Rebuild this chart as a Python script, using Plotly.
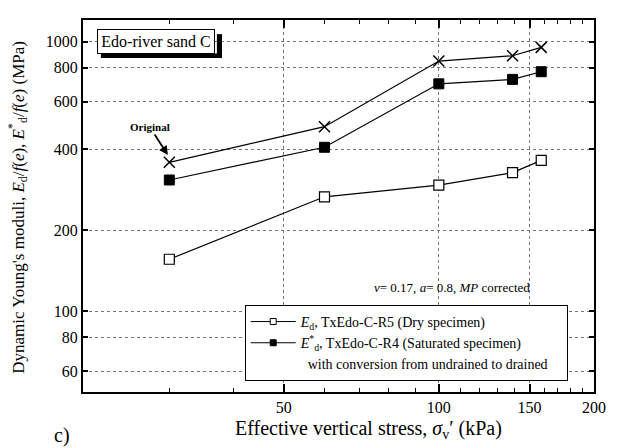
import numpy as np
import plotly.graph_objects as go

# Effective vertical stress (kPa)
stress = [30, 60, 100, 139, 158]
# Original (uncorrected) saturated-specimen moduli
e_original = [357, 484, 848, 887, 953]
# E*_d/f(e), saturated specimen, converted undrained -> drained
e_saturated = [307, 406, 698, 725, 774]
# E_d/f(e), dry specimen
e_dry = [156, 266, 294, 327, 363]

y_ticks = [60, 80, 100, 200, 400, 600, 800, 1000]
x_ticks = [50, 100, 150, 200]
x_minor = [30, 40, 60, 70, 80, 90, 110, 120, 130, 140, 160, 170, 180, 190]

FONT = "Liberation Serif"
LINE = dict(color="black", width=1.2)

fig = go.Figure()

# Data series
fig.add_trace(go.Scatter(
    x=stress, y=e_original, mode="lines+markers", showlegend=False,
    line=LINE,
    marker=dict(symbol="x-thin", size=11, color="black",
                line=dict(color="black", width=1.5)),
))
fig.add_trace(go.Scatter(
    x=stress, y=e_dry, mode="lines+markers", showlegend=False,
    line=LINE,
    marker=dict(symbol="square", size=10, color="white",
                line=dict(color="black", width=1.2)),
))
fig.add_trace(go.Scatter(
    x=stress, y=e_saturated, mode="lines+markers", showlegend=False,
    line=LINE,
    marker=dict(symbol="square", size=10, color="black",
                line=dict(color="black", width=1)),
))

# Legend entries (smaller symbols than the plotted markers)
fig.add_trace(go.Scatter(
    x=[None], y=[None], mode="lines+markers",
    name="<i>E</i><sub>d</sub>, TxEdo-C-R5 (Dry specimen)",
    line=dict(color="black", width=1),
    marker=dict(symbol="square", size=6, color="white",
                line=dict(color="black", width=1)),
))
fig.add_trace(go.Scatter(
    x=[None], y=[None], mode="lines+markers",
    name="<i>E</i><sup>*</sup><sub>d</sub>, TxEdo-C-R4 (Saturated specimen)",
    line=dict(color="black", width=1),
    marker=dict(symbol="square", size=6, color="black",
                line=dict(color="black", width=1)),
))
fig.add_trace(go.Scatter(
    x=[None], y=[None], mode="lines",
    name="&nbsp;&nbsp;with conversion from undrained to drained&nbsp;&nbsp;&nbsp;&nbsp;",
    line=dict(color="rgba(0,0,0,0)", width=0),
))

axis_common = dict(
    type="log", showline=True, linecolor="black", linewidth=2,
    mirror="ticks", ticks="inside", tickcolor="black",
    showgrid=True, gridcolor="#777", griddash="dot", gridwidth=1,
    zeroline=False,
    tickfont=dict(family=FONT, size=16, color="black"),
)

fig.update_xaxes(
    **axis_common,
    range=[np.log10(20.4), np.log10(200)],
    tickmode="array", tickvals=x_ticks, ticktext=[str(v) for v in x_ticks],
    ticklen=8, tickwidth=1.5,
    minor=dict(tickmode="array", tickvals=x_minor, ticks="inside",
               ticklen=4, tickwidth=1, tickcolor="black", showgrid=False),
)
fig.update_yaxes(
    **axis_common,
    range=[np.log10(50.2), np.log10(1204)],
    tickmode="array", tickvals=y_ticks, ticktext=[str(v) for v in y_ticks],
    ticklen=5, tickwidth=1.5,
)

# Drop shadow of the sample label box: a bottom strip and a right strip
shadow = dict(type="rect", xref="paper", yref="paper",
              fillcolor="black", line=dict(width=0), layer="above")
fig.add_shape(**shadow, x0=0.035, x1=0.272, y0=0.898, y1=0.910)
fig.add_shape(**shadow, x0=0.262, x1=0.272, y0=0.898, y1=0.962)

annotations = [
    dict(text="Edo-river sand C", xref="paper", yref="paper", x=0.1435, y=0.942,
         xanchor="center", yanchor="middle", width=114, height=21,
         showarrow=False, font=dict(family=FONT, size=16, color="black"),
         bgcolor="white", bordercolor="black", borderwidth=1, borderpad=1),
    dict(text="<b>Original</b>", x=np.log10(29.8), y=np.log10(380),
         xref="x", yref="y", showarrow=True, ax=-18, ay=-28,
         arrowhead=2, arrowsize=1, arrowwidth=1.8, arrowcolor="black",
         font=dict(family=FONT, size=11, color="black")),
    dict(text="<i>ν</i>= 0.17, <i>a</i>= 0.8, <i>MP</i> corrected",
         xref="paper", yref="paper", x=0.722, y=0.282, showarrow=False,
         xanchor="center", yanchor="middle",
         font=dict(family=FONT, size=13, color="black")),
    dict(text="Effective vertical stress, <i>σ</i><sub>v</sub>′ (kPa)",
         xref="paper", yref="paper", x=0.559, y=-0.102, showarrow=False,
         xanchor="center", yanchor="middle",
         font=dict(family=FONT, size=20, color="black")),
    dict(text="Dynamic Young's moduli, <i>E</i><sub>d</sub>/<i>f</i>(<i>e</i>), "
              "<i>E</i><sup>*</sup><sub>d</sub>/<i>f</i>(<i>e</i>) (MPa)",
         xref="paper", yref="paper", x=-0.128, y=0.497, textangle=-90,
         xanchor="center", yanchor="middle",
         showarrow=False, font=dict(family=FONT, size=17, color="black")),
    dict(text="c)", xref="paper", yref="paper", x=-0.041, y=-0.118,
         xanchor="center", yanchor="middle",
         showarrow=False, font=dict(family=FONT, size=20, color="black")),
]
fig.update_layout(annotations=annotations)

fig.update_layout(
    width=618, height=448,
    margin=dict(l=83, r=20, t=20, b=56),
    paper_bgcolor="white", plot_bgcolor="white",
    font=dict(family=FONT, color="black"),
    legend=dict(
        x=0.3165, y=0.234, xanchor="left", yanchor="top",
        bgcolor="white", bordercolor="black", borderwidth=1,
        font=dict(family=FONT, size=14, color="black"),
        tracegroupgap=0, itemwidth=45,
    ),
)

fig.write_html("out.html")
